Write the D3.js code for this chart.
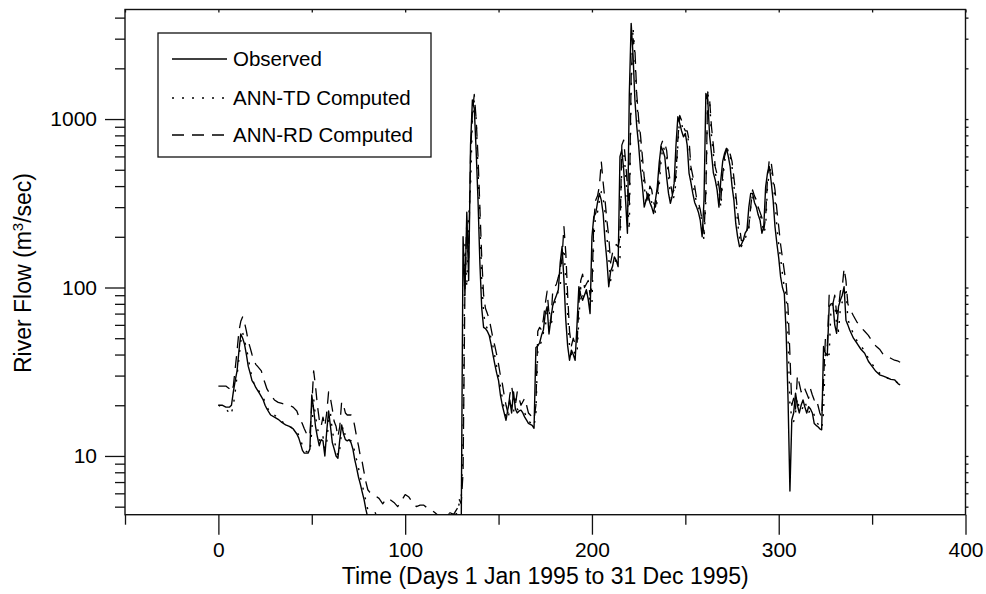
<!DOCTYPE html>
<html>
<head>
<meta charset="utf-8">
<script src="https://cdn.jsdelivr.net/npm/d3@7"></script>
<style>
  html, body { margin: 0; padding: 0; background: #fff; }
  svg { display: block; font-family: "Liberation Sans", Arial, Helvetica, sans-serif; }
</style>
</head>
<body>
<svg id="chart" width="986" height="594"></svg>
<script>
// Day numbers (1995). Sparse where the curves are smooth, daily where they move fast.
const earlyDays = [0, 2, 4, 5, 6, 7, 8, 9, 10, 11, 12, 13, 14, 15, 16, 17, 18, 19, 20, 21, 22, 23, 24, 25, 26, 28, 30, 32, 34, 36, 38, 40, 42, 43, 44, 45, 46, 48, 49,
  50, 51, 52, 53, 54, 55, 56, 57, 58, 59, 60, 61, 62, 63, 64, 65, 66, 67, 68, 69, 70, 71, 72, 73, 74, 75, 76, 77, 78, 79,
  80, 81, 82, 84, 86, 88, 90, 92, 94, 96, 98, 100, 102, 104, 106, 108, 110, 112, 114, 116, 118, 120, 122, 124, 126, 127, 128, 129, 130];
const dailyDays = d3.range(131, 339);
const lateDays = [340, 342, 344, 346, 348, 350, 352, 354, 356, 358, 360, 362, 364, 365];
const days = [...earlyDays, ...dailyDays, ...lateDays];

// river flow, m3/sec
const observed = [
  20, 20, 19.5, 19.5, 19.5, 20, 24, 28, 32, 42, 53, 50, 46, 40, 34, 31, 28, 27, 25.5, 24.5, 23.5, 22.5, 21.5, 20, 19, 17.5, 17, 16.5, 15.8, 15.3, 15, 14.5, 13.5, 12.8, 11.8, 10.8, 10.4, 10.4, 11,
  23, 19, 15, 13, 11.5, 12.5, 12.3, 10, 14, 18.5, 15, 12, 11, 10, 9.7, 12.5, 15.3, 13.5, 12.5, 12.3, 12.5, 12, 11, 9.5, 8.5, 7.5, 6.8, 6.1, 5.5, 4.8,
  4.3, 3.9, 3.7, 3.6, 3.5, 3.4, 3.4, 3.3, 3.3, 3.3, 3.2, 3.2, 3.2, 3.1, 3.1, 3.1, 3.0, 3.0, 3.0, 3.0, 2.9, 2.9, 2.9, 2.9, 2.9, 3.0, 3.0, 3.1, 3.5,
  200, 90, 280, 110, 700, 1300, 1150, 650, 330, 140,
  75, 58, 57, 55, 52, 46, 40, 35, 31, 28,
  23, 20, 18, 16.3, 19, 21.5, 18, 24, 19, 18,
  18.5, 18.7, 18, 17, 16.3, 15.6, 15.4, 15.2, 14.6, 44,
  45, 47, 52, 56, 70, 77, 53, 65, 78, 84,
  90, 97, 140, 175, 111, 64, 45, 37, 42.5, 40,
  37, 60, 101, 90, 84, 90, 97, 85, 70, 200,
  263, 275, 320, 362, 330, 275, 190, 145, 101, 125,
  133, 152, 145, 133, 597, 655, 500, 330, 210, 1400,
  3700, 2400, 1300, 900, 700, 500, 400, 300, 330, 362,
  320, 300, 275, 330, 396, 550, 686, 650, 597, 450,
  362, 316, 350, 415, 700, 1032, 942, 850, 785, 822,
  700, 476, 420, 362, 320, 301, 280, 250, 200, 330,
  1420, 1297, 800, 625, 480, 435, 380, 300, 435, 560,
  625, 670, 600, 521, 400, 330, 240, 200, 175, 180,
  191, 210, 219, 300, 362, 362, 320, 301, 270, 251,
  210, 230, 396, 480, 521, 420, 330, 230, 183, 150,
  116, 100, 92, 53, 21.5, 6.2, 16.4, 18, 23.6, 20,
  18, 20, 21.5, 19.5, 18, 19.6, 19, 18, 15.6, 15.2,
  14.9, 14.5, 14.3, 44.6, 40.7, 39.5, 77, 80, 80.5, 60,
  53.5, 77, 84, 90, 101, 64, 60, 56,
  50, 46.5, 43, 40.7, 36.5, 34, 31.8, 30.3, 29.8, 29.2, 28.5, 28.3, 26.8, 26.4
];

const annTD = [
  20, 19.5, 19, 18.5, 17.5, 18, 20, 24, 30, 38, 48, 54, 48, 44, 38, 33, 29, 27, 26, 25, 24, 23, 22, 21, 19.5, 18, 17.5, 16.8, 16, 15.5, 15, 14.6, 14, 13.3, 12.5, 11.5, 10.8, 10.5, 10.5,
  14, 22, 17, 15, 12.5, 12, 13, 11, 12, 16, 18, 14, 12.5, 11, 10, 11, 14, 15, 13, 12.5, 12.5, 12.3, 12, 10.5, 9.5, 8.5, 7.5, 6.8, 6, 5.4,
  4.8, 4.4, 4.2, 4.6, 4.2, 4.0, 3.9, 3.8, 3.8, 3.7, 3.7, 3.6, 3.6, 3.6, 3.5, 3.5, 3.4, 3.4, 3.4, 3.3, 3.3, 3.3, 4.3, 4.6, 4.4, 4.5, 4.6, 5.3, 5.5,
  12, 180, 100, 260, 400, 1000, 1300, 1000, 500, 250,
  110, 70, 60, 57, 55, 50, 45, 39, 34, 30,
  26, 22, 19, 17, 16.5, 19, 20, 18, 23, 19,
  18.5, 18.5, 18.5, 18, 17, 16, 15.8, 15.5, 15, 18,
  42, 45, 48, 54, 58, 72, 75, 58, 68, 80,
  88, 95, 100, 150, 170, 110, 70, 45, 40, 43,
  40, 40, 65, 100, 90, 85, 92, 95, 80, 80,
  200, 270, 280, 330, 370, 340, 280, 200, 150, 110,
  125, 135, 150, 145, 150, 580, 640, 480, 330, 220,
  1500, 3500, 2400, 1300, 900, 700, 500, 400, 320, 330,
  360, 320, 300, 280, 330, 400, 560, 690, 650, 600,
  450, 360, 320, 350, 420, 700, 1030, 940, 850, 790,
  820, 700, 480, 420, 360, 320, 300, 280, 240, 190,
  330, 1400, 1300, 800, 620, 480, 430, 380, 300, 430,
  560, 620, 660, 600, 520, 400, 330, 240, 200, 175,
  185, 195, 210, 220, 300, 360, 360, 320, 300, 270,
  250, 210, 230, 400, 480, 520, 420, 330, 230, 180,
  150, 120, 100, 90, 50, 20, 17, 16, 18, 22,
  19, 18.5, 19.5, 21, 19.5, 18, 19, 18.5, 17.5, 16,
  15.5, 15, 14.5, 18, 42, 40, 40, 75, 80, 80,
  60, 55, 75, 82, 88, 100, 65, 60,
  53, 48, 45, 42, 38, 35, 33, 31, 30, 29, 28.5, 28, 27, 26.5
];

const annRD = [
  26, 26, 26, 25.5, 25, 24, 26, 33, 42, 55, 63, 67, 62, 55, 48, 44, 40, 37, 35, 34, 33, 32, 29, 27, 25, 23, 21.5, 20.8, 20.5, 20.2, 20, 19.5, 18.5, 17.2, 16.3, 15.5, 14.5, 13, 13.5,
  20, 32, 26, 20, 16.5, 15, 17, 15, 18, 24, 22, 19, 16, 15, 13, 15, 21, 20, 18, 17.5, 17.5, 17.5, 17, 15, 13, 11.5, 10, 9.2, 8, 7,
  6.3, 6.1, 6, 5.8, 5.6, 5.2, 5.6, 5.5, 5.3, 5.0, 5.4, 5.9, 5.7, 5.3, 5.0, 5.1, 5.1, 4.9, 4.8, 4.6, 4.4, 4.3, 4.5, 4.6, 4.5, 4.7, 4.9, 5.5, 5.2,
  8, 100, 250, 150, 600, 1100, 1400, 1000, 600, 300,
  150, 90, 75, 70, 65, 57, 50, 45, 40, 35,
  30, 27, 23, 20, 18, 23, 26, 22, 20, 24,
  22, 20, 21, 22, 20, 18, 17.5, 17, 16.5, 20,
  55, 58, 56, 65, 80, 95, 70, 62, 95, 100,
  105, 115, 130, 150, 230, 160, 90, 55, 45, 50,
  46, 45, 80, 110, 120, 100, 105, 110, 90, 100,
  250, 330, 350, 400, 560, 420, 330, 250, 200, 140,
  160, 170, 180, 175, 200, 700, 750, 560, 400, 300,
  1800, 3000, 2600, 1400, 1000, 800, 600, 450, 380, 330,
  400, 380, 320, 300, 360, 450, 700, 750, 720, 650,
  500, 420, 360, 380, 480, 760, 1050, 980, 900, 850,
  850, 750, 520, 460, 400, 340, 320, 290, 250, 210,
  380, 1450, 1300, 900, 700, 520, 470, 400, 330, 470,
  600, 650, 680, 620, 560, 450, 360, 280, 230, 190,
  190, 200, 220, 230, 300, 380, 350, 330, 300, 280,
  260, 220, 260, 450, 580, 550, 450, 380, 290, 230,
  180, 150, 125, 105, 75, 40, 20, 22, 19, 30,
  27, 24, 26, 25, 23.5, 22, 25, 23, 21.5, 22,
  20, 18, 17, 28, 50, 45, 90, 85, 80, 90,
  70, 75, 95, 100, 130, 110, 80, 75,
  68, 62, 58, 55, 52, 48, 45, 43, 40, 39, 38, 37, 36.5, 36
];

const seriesNames = ['Observed', 'ANN-TD Computed', 'ANN-RD Computed'];
const xMajorTicks = [0, 100, 200, 300, 400];
const xMinorTicks = [-50, 50, 150, 250, 350];
const yMajorTicks = [10, 100, 1000];
const yMinorTicks = [5, 6, 7, 8, 9, 20, 30, 40, 50, 60, 70, 80, 90, 200, 300, 400, 500, 600, 700, 800, 900, 2000, 3000, 4000];

const svg = d3.select('#chart');
const plotL = 125, plotR = 965.5, plotT = 9.5, plotB = 514.7;
const tickFont = 21, legendFont = 20.5, titleFont = 23;

const x = d3.scaleLinear().domain([-50, 400]).range([plotL, plotR]);
const y = d3.scaleLog().domain([4.48, 4470]).range([plotB, plotT]);

// Axes
const xAxis = svg.append('g').attr('transform', `translate(0,${plotB})`)
  .call(d3.axisBottom(x).tickValues(xMajorTicks).tickSize(20).tickPadding(7).tickFormat(d3.format('d')));
const xMinor = svg.append('g').attr('transform', `translate(0,${plotB})`)
  .call(d3.axisBottom(x).tickValues(xMinorTicks).tickSize(10).tickFormat(''));
const xTop = svg.append('g').attr('transform', `translate(0,${plotT})`)
  .call(d3.axisTop(x).tickValues(xMajorTicks.concat(xMinorTicks)).tickSize(-3).tickFormat(''));

const yAxis = svg.append('g').attr('transform', `translate(${plotL},0)`)
  .call(d3.axisLeft(y).tickValues(yMajorTicks).tickSize(20).tickPadding(8).tickFormat(d3.format('d')));
const yMinor = svg.append('g').attr('transform', `translate(${plotL},0)`)
  .call(d3.axisLeft(y).tickValues(yMinorTicks).tickSize(10).tickFormat(''));
const yRight = svg.append('g').attr('transform', `translate(${plotR},0)`)
  .call(d3.axisRight(y).tickValues(yMajorTicks.concat(yMinorTicks)).tickSize(3).tickFormat(''));

[xAxis, xMinor, xTop, yAxis, yMinor, yRight].forEach(g => {
  g.select('.domain').remove();
  g.selectAll('line').attr('stroke', '#111').attr('stroke-width', 1.3);
  g.selectAll('text').attr('font-size', tickFont).attr('fill', '#000')
    .attr('font-family', '"Liberation Sans", Arial, Helvetica, sans-serif');
});

// Frame
svg.append('rect')
  .attr('x', plotL).attr('y', plotT)
  .attr('width', plotR - plotL).attr('height', plotB - plotT)
  .attr('fill', 'none').attr('stroke', '#111').attr('stroke-width', 1.4);

// Clip for the curves
svg.append('clipPath').attr('id', 'plot-clip')
  .append('rect').attr('x', plotL).attr('y', plotT)
  .attr('width', plotR - plotL).attr('height', plotB - plotT);

const styles = [
  { values: observed, dash: null, width: 1.4 },
  { values: annTD, dash: '2,8', width: 1.4 },
  { values: annRD, dash: '12,8', width: 1.3 }
];

const line = d3.line()
  .x(d => x(d[0]))
  .y(d => y(d[1]));

const curves = svg.append('g').attr('clip-path', 'url(#plot-clip)');
styles.forEach(s => {
  curves.append('path')
    .datum(days.map((d, i) => [d, s.values[i]]))
    .attr('fill', 'none')
    .attr('stroke', '#000')
    .attr('stroke-width', s.width)
    .attr('stroke-linejoin', 'round')
    .attr('stroke-dasharray', s.dash)
    .attr('d', line);
});

// Legend
const legend = svg.append('g');
legend.append('rect')
  .attr('x', 158).attr('y', 33).attr('width', 273).attr('height', 124)
  .attr('fill', '#fff').attr('stroke', '#111').attr('stroke-width', 1.3);
const rowY = [59, 98, 135];
seriesNames.forEach((name, i) => {
  legend.append('line')
    .attr('x1', 172).attr('x2', 227).attr('y1', rowY[i]).attr('y2', rowY[i])
    .attr('stroke', '#000').attr('stroke-width', styles[i].width)
    .attr('stroke-dasharray', styles[i].dash);
  legend.append('text')
    .attr('x', 233).attr('y', rowY[i]).attr('dy', '0.35em')
    .attr('font-size', legendFont).text(name);
});

// Axis titles
svg.append('text')
  .attr('x', (plotL + plotR) / 2).attr('y', 584)
  .attr('text-anchor', 'middle').attr('font-size', titleFont)
  .text('Time (Days 1 Jan 1995 to 31 Dec 1995)');

const yTitle = svg.append('text')
  .attr('transform', 'translate(31,273) rotate(-90)')
  .attr('text-anchor', 'middle').attr('font-size', titleFont);
yTitle.append('tspan').text('River Flow (m');
yTitle.append('tspan').attr('dy', -8).attr('font-size', 15).text('3');
yTitle.append('tspan').attr('dy', 8).text('/sec)');
</script>
</body>
</html>
